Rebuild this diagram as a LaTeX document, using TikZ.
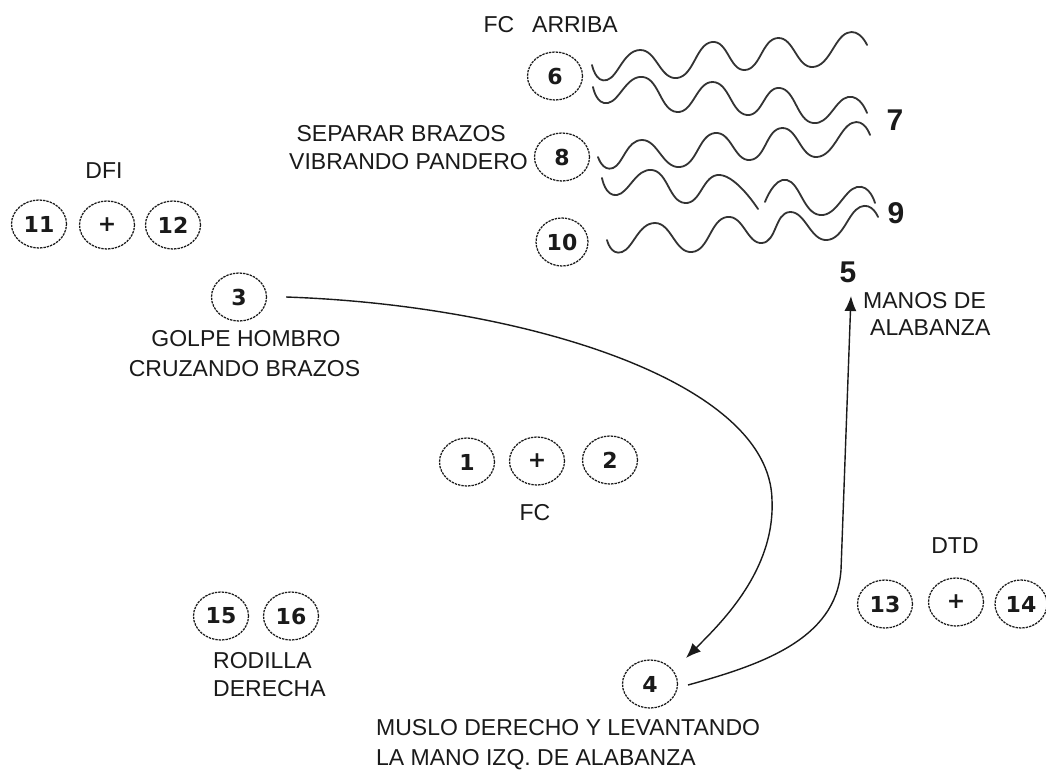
\documentclass[tikz,border=0pt]{standalone}
\usepackage{fontspec}
\setmainfont{Liberation Sans}
\newfontfamily\digitfont{DejaVu Sans}
\usetikzlibrary{shapes.geometric,arrows.meta}
\definecolor{ink}{HTML}{1A1A1A}
\definecolor{wavec}{HTML}{333333}
\begin{document}
\begin{tikzpicture}[x=1pt,y=-1pt,
  circ/.style={ellipse, draw=ink, dash pattern=on 2.4pt off 1pt, line width=1.25pt,
    minimum width=55, minimum height=48, inner sep=0pt, text=ink,
    font=\digitfont\bfseries\fontsize{22}{22}\selectfont},
  lbl/.style={inner sep=0pt, text=ink, text height=16.5pt, text depth=0pt,
    font=\fontsize{23}{23}\selectfont},
  big/.style={inner sep=0pt, text=ink, font=\bfseries\fontsize{30}{30}\selectfont},
  wave/.style={line width=1.8pt, draw=wavec, line join=round, line cap=round},
  conn/.style={line width=1.4pt, draw=ink, -{Latex[length=15pt,width=12pt]}}]
\useasboundingbox[fill=white] (0,0) rectangle (1046,769);

% DFI group
\node[lbl] (dfi) at (104,170) {DFI};
\node[circ] (n11) at (39,224) {11};
\node[circ] (p1) at (107,225) {+};
\node[circ] (n12) at (173,225) {12};

% 3
\node[circ] (n3) at (239,297) {3};
\node[lbl] (golpe) at (246,338) {GOLPE HOMBRO};
\node[lbl] (cruz) at (244.5,368) {CRUZANDO BRAZOS};

% top group
\node[lbl] (fc1) at (499,24) {FC};
\node[lbl] (arriba) at (575,24) {ARRIBA};
\node[circ] (n6) at (555,76) {6};
\node[circ] (n8) at (562,157) {8};
\node[circ,minimum width=52] (n10) at (562,242) {10};
\node[lbl,anchor=east] (sep) at (506,133) {SEPARAR BRAZOS};
\node[lbl,anchor=east] (vib) at (528,161) {VIBRANDO PANDERO};
\node[big] (n7) at (895,120) {7};
\node[big] (n9) at (896,213) {9};

% waves
\draw[wave] plot[smooth,tension=0.85] coordinates {(592,65) (607,80) (640,50) (677,78) (712,42) (745,70) (778,38) (813,67) (847,33) (867,45)};
\draw[wave] plot[smooth,tension=0.85] coordinates {(593,87) (608,103) (643,77) (677,112) (713,82) (747,115) (780,88) (813,123) (848,97) (867,113)};
\draw[wave] plot[smooth,tension=0.85] coordinates {(598,157) (613,168) (642,140) (680,167) (715,133) (750,160) (782,128) (817,157) (852,123) (870,135)};
\draw[wave] plot[smooth,tension=0.85] coordinates {(602,178) (617,195) (652,170) (685,203) (720,175) (758,209)};
\draw[wave] plot[smooth,tension=0.85] coordinates {(765,202) (787,180) (820,215) (857,187) (875,203)};
\draw[wave] plot[smooth,tension=0.85] coordinates {(607,240) (622,252) (655,223) (692,252) (727,217) (762,243) (790,212) (827,240) (860,207) (878,217)};

% 5
\node[big] (n5) at (848,272) {5};
\node[lbl,anchor=west] (manos) at (863,300) {MANOS DE};
\node[lbl,anchor=west] (alab) at (870,327) {ALABANZA};

% center group
\node[circ] (n1) at (467,462) {1};
\node[circ] (p2) at (537,461) {+};
\node[circ] (n2) at (610,460) {2};
\node[lbl] (fc2) at (535,512) {FC};

% DTD group
\node[lbl] (dtd) at (955,545) {DTD};
\node[circ] (n13) at (885,604) {13};
\node[circ] (p3) at (956,602) {+};
\node[circ,minimum width=52] (n14) at (1021,604) {14};

% 15 16
\node[circ] (n15) at (221,616) {15};
\node[circ] (n16) at (291,616) {16};
\node[lbl,anchor=west] (rod) at (213,660) {RODILLA};
\node[lbl,anchor=west] (der) at (213,688) {DERECHA};

% 4
\node[circ] (n4) at (650,684) {4};
\node[lbl,anchor=west] (muslo) at (376,727) {MUSLO DERECHO Y LEVANTANDO};
\node[lbl,anchor=west] (lamano) at (376,757) {LA MANO IZQ. DE ALABANZA};

% connectors
\draw[conn] ([xshift=19pt]n3.east) .. controls (520,305) and (770,380) .. (772,500)
   .. controls (775,570) and (722,622) .. ([shift={(36,-26)}]n4.center);
\draw[conn] ([shift={(38,1)}]n4.center) .. controls (760,665) and (836,640) .. (841,570)
   -- ([shift={(3,24)}]n5.center);
\end{tikzpicture}
\end{document}
